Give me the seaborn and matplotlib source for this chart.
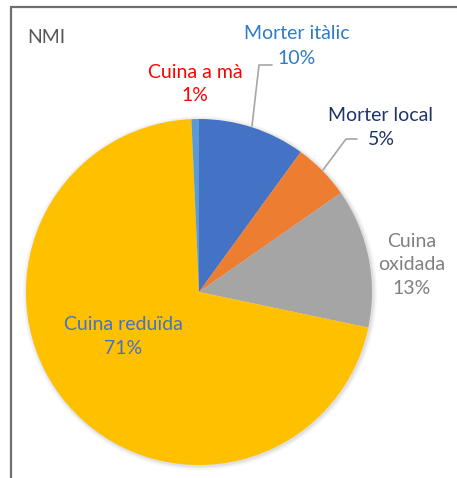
import matplotlib
matplotlib.use("Agg")
import matplotlib.pyplot as plt
import seaborn as sns
from matplotlib.patches import Circle

# slice data, clockwise from 12 o'clock
categories = ["Morter itàlic", "Morter local", "Cuina oxidada", "Cuina reduïda", "Cuina a mà"]
shares = [10.0, 5.3, 13.0, 71.0, 0.7]
slice_colors = ["#4472C4", "#ED7D31", "#A5A5A5", "#FFC000", "#5B9BD5"]
label_colors = ["#2E7BC6", "#1F3468", "#808080", "#4472C4", "#FF0000"]
title = "NMI"

sns.set_theme(style="white")
plt.rcParams['font.family'] = ['Lato', 'DejaVu Sans']

W, H = 457, 478
fig = plt.figure(figsize=(W / 100, H / 100), dpi=100)
ax = fig.add_axes([0, 0, 1, 1])


def py(y):
    # pixel row (from top) -> data y
    return H - y


cx, cy, r = 199, py(292), 173
FS = 14

# soft shadow behind the pie
for k, a in [(4, 0.03), (2.5, 0.04), (1.2, 0.05)]:
    ax.add_patch(Circle((cx + 1, cy - 1), r + k, color="black", alpha=a, lw=0, zorder=0))

ax.pie(shares, colors=slice_colors, startangle=90, counterclock=False,
       center=(cx, cy), radius=r, wedgeprops=dict(linewidth=0, zorder=1))

ax.set_xlim(0, W)
ax.set_ylim(0, H)
ax.set_aspect("equal")
ax.axis("off")

# frame (cut by the image edges on the right and bottom)
ax.plot([10.5, 10.5, W + 5], [-5, py(6.5), py(6.5)], color="#6E6E6E", lw=1.6,
        solid_joinstyle="miter", clip_on=False)

ax.text(27, py(37), title, ha="left", va="center", fontsize=FS, color="#595959")

pct = [f"{round(v)}%" for v in shares]
label_pos = {
    "Morter itàlic": (297, [33, 58]),
    "Morter local": (381, [115, 139]),
    "Cuina oxidada": (412, [241, 264, 288]),
    "Cuina reduïda": (123, [325, 349]),
    "Cuina a mà": (195, [72, 95]),
}
for name, p, col in zip(categories, pct, label_colors):
    x, ys = label_pos[name]
    lines = name.split(" ", 1) if len(ys) == 3 else [name]
    for txt, yy in zip(lines + [p], ys):
        ax.text(x, py(yy), txt, ha="center", va="center", fontsize=FS, color=col)

# leader lines
lead = "#A6A6A6"
ax.plot([252, 259, 272], [py(126), py(65), py(65)], color=lead, lw=1.2)
ax.plot([323, 346, 357], [py(170), py(139), py(139)], color=lead, lw=1.2)

fig.savefig("out.png", dpi=100, facecolor="white")
